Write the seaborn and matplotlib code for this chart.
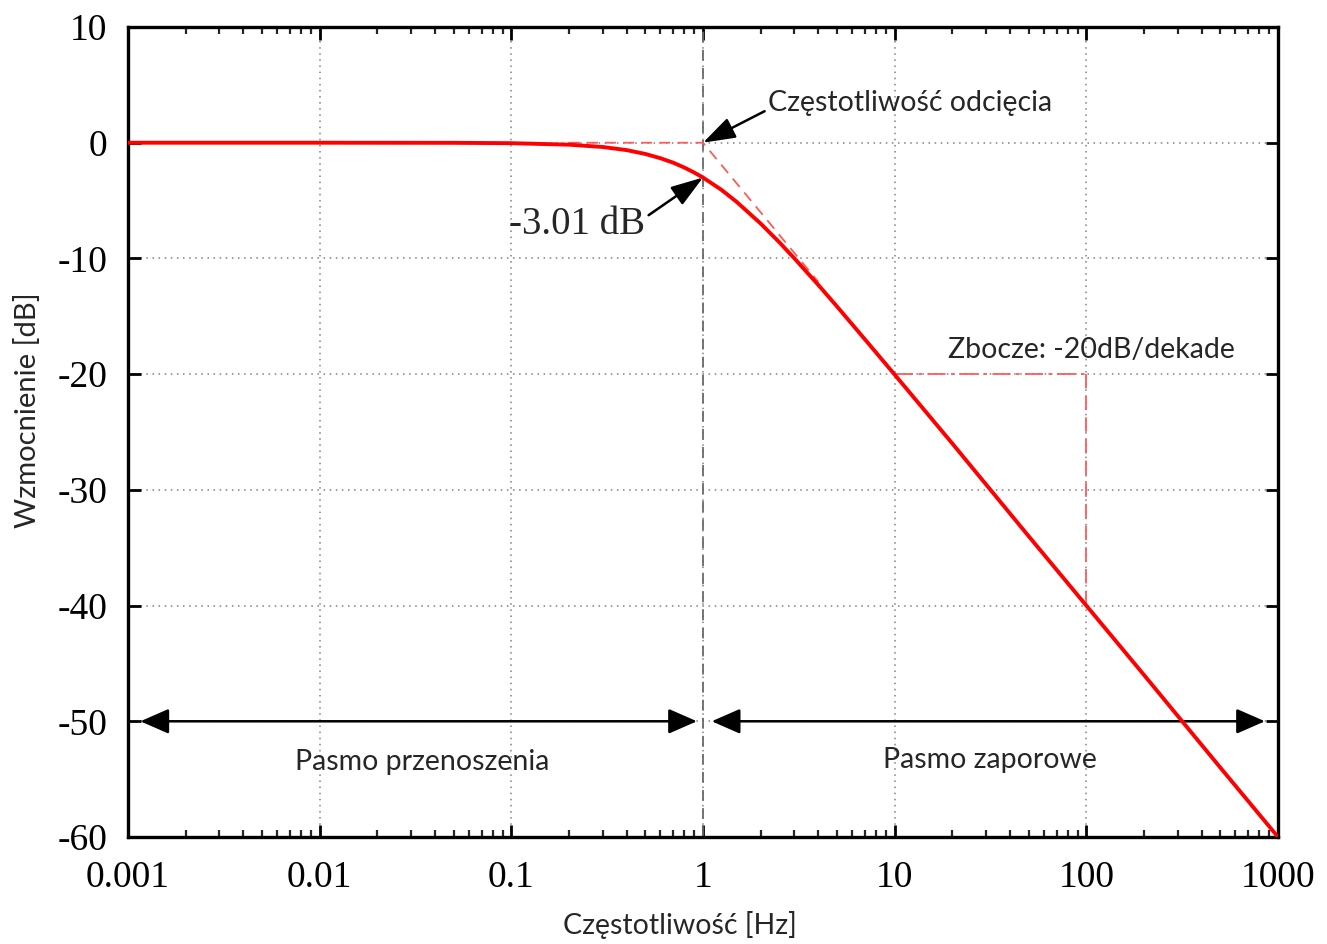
import matplotlib
matplotlib.use("Agg")
import matplotlib.pyplot as plt
import seaborn as sns
import pandas as pd

# ---- data ----
freq_hz = [0.001, 0.01, 0.05, 0.1, 0.2, 0.3, 0.4, 0.5, 0.6, 0.7, 0.8, 0.9, 1.0,
           1.25, 1.5, 2.0, 2.5, 3.0, 4.0, 5.0, 7.0, 10.0, 20.0, 50.0, 100.0,
           200.0, 500.0, 1000.0]
gain_db = [0.0, 0.0, -0.01, -0.04, -0.17, -0.37, -0.64, -0.97, -1.34, -1.73,
           -2.15, -2.58, -3.01, -4.08, -5.12, -6.99, -8.60, -10.0, -12.3,
           -14.15, -17.0, -20.04, -26.0, -34.0, -40.0, -46.0, -54.0, -60.0]

asym_f = [0.2, 1.0, 4.0]
asym_db = [0.0, 0.0, -12.04]

slope_h_f = [10.0, 100.0]
slope_h_db = [-20.0, -20.0]
slope_v_f = [100.0, 100.0]
slope_v_db = [-20.0, -40.0]

x_ticks = [0.001, 0.01, 0.1, 1, 10, 100, 1000]
x_tick_labels = ["0.001", "0.01", "0.1", "1", "10", "100", "1000"]
y_ticks = [10, 0, -10, -20, -30, -40, -50, -60]
y_tick_labels = ["10", "0", "-10", "-20", "-30", "-40", "-50", "-60"]

cutoff_f = 1.0
band_y = -50.0

sns.set_style("ticks")
plt.rcParams['font.family'] = ['Lato', 'DejaVu Sans']

SERIF = ['Liberation Serif', 'DejaVu Serif']
SANS = ['Lato', 'DejaVu Sans']

fig = plt.figure(figsize=(13.27, 9.44), dpi=100)
ax = fig.add_axes([128/1327, 1-837/944, 1150/1327, 810/944])

df = pd.DataFrame({"f": freq_hz, "g": gain_db})

# asymptotes and slope helper lines
ax.plot(asym_f, asym_db, color='#ff5a5a', lw=1.3, ls=(0, (6, 4)), zorder=3)
ax.plot(slope_h_f, slope_h_db, color='#ff5a5a', lw=1.3, ls=(0, (10, 3, 2, 3)), zorder=3)
ax.plot(slope_v_f, slope_v_db, color='#ff5a5a', lw=1.3, ls=(0, (8, 4)), zorder=3)

sns.lineplot(data=df, x="f", y="g", ax=ax, color='#ff0000', lw=2.8, zorder=5)

ax.set_xscale('log')
ax.set_xlim(0.001, 1000)
ax.set_ylim(-60, 10)

ax.set_xticks(x_ticks)
ax.set_xticklabels(x_tick_labels, fontfamily=SERIF, fontsize=27)
ax.set_yticks(y_ticks)
ax.set_yticklabels(y_tick_labels, fontfamily=SERIF, fontsize=27)

ax.tick_params(axis='both', which='major', direction='in', length=9, width=2,
               top=True, right=True, colors='black')
ax.tick_params(axis='x', which='minor', direction='in', length=5, width=1.6,
               top=True, bottom=True)
ax.tick_params(axis='x', which='major', pad=17)
ax.tick_params(axis='y', which='major', pad=15)

for s in ax.spines.values():
    s.set_linewidth(2.4)
    s.set_color('black')

ax.grid(True, which='major', color='#808080', ls=(0, (1, 3)), lw=1.1)
ax.axvline(cutoff_f, color='#6a6a6a', lw=1.3, ls=(0, (6, 4)), zorder=2)

ax.set_xlabel("")
ax.set_ylabel("")
ax.text(0.48, -0.109, "Częstotliwość [Hz]", transform=ax.transAxes,
        ha='center', va='center', fontsize=20.5, fontfamily=SANS)
ax.text(-0.087, 0.527, "Wzmocnienie [dB]", transform=ax.transAxes,
        ha='center', va='center', rotation=90, fontsize=21, fontfamily=SANS)

arrow_kw = dict(arrowstyle='-|>,head_length=0.9,head_width=0.3', color='black',
                lw=1.8, mutation_scale=22, shrinkA=0, shrinkB=0)

ax.annotate("Częstotliwość odcięcia", xy=(1.0, 0.0), xytext=(2.18, 3.43),
            fontsize=20.5, fontfamily=SANS, ha='left', va='center',
            arrowprops=dict(**arrow_kw, relpos=(0, 0.25)))
ax.annotate("-3.01 dB", xy=(1.0, -3.01), xytext=(0.5, -7.1),
            fontsize=28, fontfamily=SERIF, ha='right', va='center',
            arrowprops=dict(**arrow_kw, relpos=(1, 0.7)))

ax.text(19.0, -17.9, "Zbocze: -20dB/dekade", fontsize=20.5, fontfamily=SANS,
        ha='left', va='center')

dbl_kw = dict(arrowstyle='<|-|>,head_length=0.8,head_width=0.35', color='black',
              lw=1.8, mutation_scale=22, shrinkA=0, shrinkB=0)
ax.annotate("", xy=(0.93, band_y), xytext=(0.00116, band_y), arrowprops=dbl_kw)
ax.annotate("", xy=(855, band_y), xytext=(1.11, band_y), arrowprops=dbl_kw)

ax.text(0.0342, -53.5, "Pasmo przenoszenia", fontsize=20.5, fontfamily=SANS,
        ha='center', va='center')
ax.text(31.4, -53.35, "Pasmo zaporowe", fontsize=20.5, fontfamily=SANS,
        ha='center', va='center')

fig.savefig("out.png", dpi=100)
